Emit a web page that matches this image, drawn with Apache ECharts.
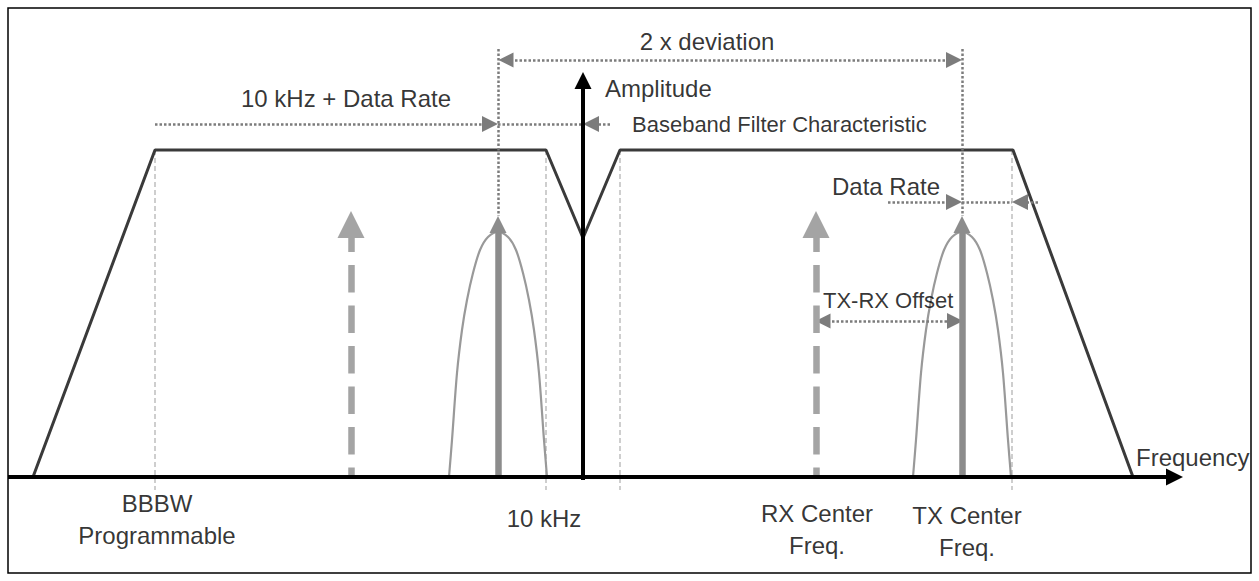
<!DOCTYPE html>
<html>
<head>
<meta charset="utf-8">
<script src="https://cdn.jsdelivr.net/npm/echarts@6/dist/echarts.min.js"></script>
<style>
html,body{margin:0;padding:0;background:#fff;}
#chart{width:1259px;height:581px;}
</style>
</head>
<body>
<div id="chart"></div>
<script>
// ---- Diagram data (x = frequency position, y = amplitude; baseline amplitude = 0) ----
const filterX = [33, 155, 546, 583, 620, 1013, 1133];
const filterY = [0, 327, 327, 239, 327, 327, 0];

const bandEdgeX = [155, 546, 620, 1012];
const bandEdgeTop = 327;
const bandEdgeBottom = -13;

const signalCenters = [498, 962];      // TX tones (solid arrows)
const ghostCenters = [351, 816];       // RX / image positions (dashed arrows)
const arrowTip = 261;

const bellOffsets = [-49, -46, -41, -36, -31, -25, -18, -10, 0, 10, 18, 25, 31, 36, 41, 46, 49];
const bellAmps    = [0, 37, 104, 147, 177, 204, 227, 240, 245, 240, 227, 204, 177, 147, 104, 37, 0];

const guideTop = 428;                  // dotted guides above the tones

const deviationY = 417;                // "2 x deviation"
const bbfY = 353;                      // "10 kHz + Data Rate"
const bbfStart = 155, bbfLeftTip = 498, bbfRightTip = 583, bbfTail = 610;
const dataRateY = 275;                 // "Data Rate"
const drStart = 888, drLeftTip = 962, drRightTip = 1012, drTail = 1038;
const offsetY = 156;                   // "TX-RX Offset"
const offsetFrom = 815, offsetTo = 963;

const freqAxisFrom = 8, freqAxisTo = 1183;
const ampAxisX = 583, ampAxisFrom = -3, ampAxisTo = 405;

const labelTexts = ['2 x deviation', 'Amplitude', 'Baseband Filter Characteristic', '10 kHz + Data Rate',
  'Data Rate', 'TX-RX Offset', 'Frequency', 'BBBW\nProgrammable', '10 kHz', 'RX Center\nFreq.', 'TX Center\nFreq.'];
const labelX = [707, 605, 632, 346, 832, 823, 1136, 157, 544, 817, 967];
const labelY = [436, 389, 353, 379, 291, 177, 20, -10, -41, -20, -22];

// ---- helpers ----
function seg(p0, p1, head0, head1) {
  const dx = p1[0] - p0[0], dy = p1[1] - p0[1];
  const len = Math.hypot(dx, dy) || 1;
  const ux = dx / len, uy = dy / len;
  return { coords: [[p0[0] + ux * head0 / 2, p0[1] + uy * head0 / 2],
                    [p1[0] - ux * head1 / 2, p1[1] - uy * head1 / 2]] };
}

const FONT = '"Liberation Sans", Arial, Helvetica, sans-serif';
const alignArr = ['center', 'left', 'left', 'center', 'left', 'left', 'left', 'center', 'center', 'center', 'center'];
const fsArr = [24, 24, 22, 24, 24, 22, 24, 24, 24, 24, 24];

const chart = echarts.init(document.getElementById('chart'), null, { renderer: 'svg' });

const series = [];

// band edge guides (light dashed)
series.push({
  type: 'lines', coordinateSystem: 'cartesian2d', z: 1, silent: true,
  lineStyle: { color: '#c2c2c2', width: 1.6, type: [5, 3], opacity: 1 },
  data: bandEdgeX.map(x => ({ coords: [[x, bandEdgeTop], [x, bandEdgeBottom]] }))
});

// bell curves
signalCenters.forEach(c => {
  series.push({
    type: 'line', z: 2, silent: true, smooth: 0.3, symbol: 'none',
    lineStyle: { color: '#999999', width: 2.2 },
    data: bellOffsets.map((o, i) => [c + o, bellAmps[i]])
  });
});

// filter characteristic
series.push({
  type: 'line', z: 3, silent: true, symbol: 'none',
  lineStyle: { color: '#3a3a3a', width: 3 },
  data: filterX.map((x, i) => [x, filterY[i]])
});

// dotted guides
series.push({
  type: 'lines', coordinateSystem: 'cartesian2d', z: 4, silent: true,
  lineStyle: { color: '#7c7c7c', width: 2.5, type: [2.5, 2], opacity: 1 },
  data: signalCenters.map(x => ({ coords: [[x, guideTop], [x, arrowTip]] })).concat([
    { coords: [[bbfLeftTip, bbfY], [bbfRightTip, bbfY]] },
    { coords: [[drLeftTip, dataRateY], [drRightTip, dataRateY]] }
  ])
});

// single-headed dimension arrows
const dimHead = 16;
series.push({
  type: 'lines', coordinateSystem: 'cartesian2d', z: 5, silent: true,
  symbol: ['none', 'triangle'], symbolSize: [15, dimHead],
  lineStyle: { color: '#7c7c7c', width: 2.5, type: [2.5, 2], opacity: 1 },
  data: [
    seg([bbfStart, bbfY], [bbfLeftTip, bbfY], 0, dimHead),
    seg([bbfTail, bbfY], [bbfRightTip, bbfY], 0, dimHead),
    seg([drStart, dataRateY], [drLeftTip, dataRateY], 0, dimHead),
    seg([drTail, dataRateY], [drRightTip, dataRateY], 0, dimHead)
  ]
});

// double-headed dimension arrows
series.push({
  type: 'lines', coordinateSystem: 'cartesian2d', z: 5, silent: true,
  symbol: ['triangle', 'triangle'], symbolSize: [15, dimHead],
  lineStyle: { color: '#7c7c7c', width: 2.5, type: [2.5, 2], opacity: 1 },
  data: [
    seg([signalCenters[0], deviationY], [signalCenters[1], deviationY], dimHead, dimHead),
    seg([offsetFrom, offsetY], [offsetTo, offsetY], dimHead, dimHead)
  ]
});

// solid signal arrows
const sigHead = 17;
series.push({
  type: 'lines', coordinateSystem: 'cartesian2d', z: 6, silent: true,
  symbol: ['none', 'triangle'], symbolSize: [27, sigHead],
  lineStyle: { color: '#8c8c8c', width: 6.5, opacity: 1 },
  data: signalCenters.map(x => seg([x, 0], [x, arrowTip], 0, sigHead))
});

// dashed ghost arrows
series.push({
  type: 'lines', coordinateSystem: 'cartesian2d', z: 6, silent: true,
  symbol: ['triangle', 'none'], symbolSize: [27, sigHead],
  lineStyle: { color: '#a4a4a4', width: 6.5, type: [27.5, 13], opacity: 1 },
  data: ghostCenters.map(x => seg([x, arrowTip], [x, 0], sigHead, 0))
});

// axes
const axHead = 17;
series.push({
  type: 'lines', coordinateSystem: 'cartesian2d', z: 7, silent: true,
  symbol: ['none', 'triangle'], symbolSize: [15, axHead],
  lineStyle: { color: '#000', width: 4, opacity: 1 },
  data: [
    seg([freqAxisFrom, 0], [freqAxisTo, 0], 0, axHead),
    seg([ampAxisX, ampAxisFrom], [ampAxisX, ampAxisTo], 0, axHead)
  ]
});

// text labels
series.push({
  type: 'scatter', z: 10, silent: true, symbolSize: 0,
  data: labelTexts.map((t, i) => ({
    value: [labelX[i], labelY[i]],
    label: {
      show: true, position: [0, 0], formatter: t,
      align: alignArr[i],
      verticalAlign: t.indexOf('\n') >= 0 ? 'top' : 'middle',
      fontSize: fsArr[i], lineHeight: 32,
      fontFamily: FONT, color: '#000'
    }
  }))
});

chart.setOption({
  animation: false,
  backgroundColor: '#fff',
  grid: { left: 0, right: 0, top: 0, bottom: 0 },
  xAxis: { type: 'value', min: 0, max: 1259, show: false },
  yAxis: { type: 'value', min: -104, max: 477, show: false },
  graphic: [{
    type: 'rect', z: 100, silent: true,
    shape: { x: 8, y: 8, width: 1243, height: 565 },
    style: { fill: 'none', stroke: '#000', lineWidth: 1.5 }
  }],
  series: series
});
</script>
</body>
</html>
